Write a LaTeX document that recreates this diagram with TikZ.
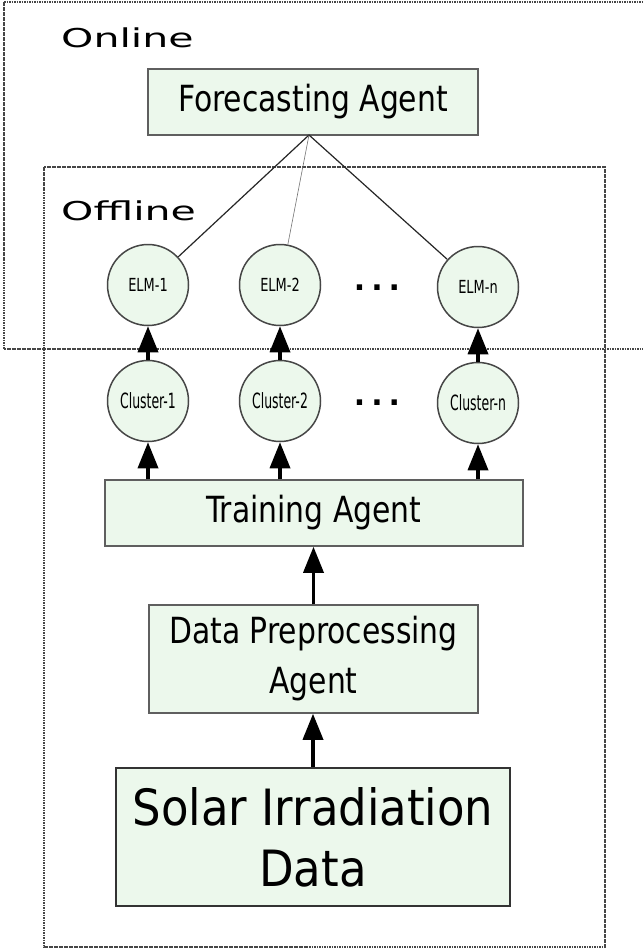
\documentclass[tikz,border=0pt]{standalone}
\usepackage{fontspec}
\setmainfont{DejaVu Sans Condensed}
\newfontfamily\labelfont[FakeStretch=1.58]{DejaVu Sans}
\newfontfamily\boxfont[FakeStretch=0.92]{DejaVu Sans Condensed}
\newfontfamily\elmfont[FakeStretch=0.8]{DejaVu Sans Condensed}
\newfontfamily\clusterfont[FakeStretch=0.66]{DejaVu Sans Condensed}
\newfontfamily\dotfont{DejaVu Sans}
\usetikzlibrary{arrows.meta}
\definecolor{boxfill}{RGB}{236,248,236}
\definecolor{boxline}{RGB}{95,95,95}
\definecolor{frameline}{RGB}{70,70,70}
\tikzset{
  agentbox/.style={draw=boxline, line width=1.5pt, fill=boxfill, inner sep=0pt, align=center},
  elmnode/.style={circle, draw=frameline, line width=1.5pt, fill=boxfill, minimum size=81pt, inner sep=0pt, font=\elmfont\fontsize{18}{18}\selectfont},
  clusternode/.style={elmnode, font=\clusterfont\fontsize{21}{21}\selectfont},
  frame/.style={draw=frameline, line width=1.1pt, dash pattern=on 1.6pt off 0.9pt},
  arr/.style={line width=3.5pt, -{Triangle[width=20pt,length=26pt]}},
  grouplabel/.style={anchor=west, inner sep=0pt, font=\labelfont\fontsize{26}{26}\selectfont},
  dots/.style={inner sep=0pt, font=\dotfont\bfseries\fontsize{30}{30}\selectfont}
}
\begin{document}
\begin{tikzpicture}[x=1pt,y=-1pt]
\useasboundingbox (0,0) rectangle (642,952);
\fill[white] (0,0) rectangle (642,952);
% frames
\draw[frame] (4,2) -- (660,2) (4,2) -- (4,349) -- (660,349);
\draw[frame] (44,167) rectangle (605,947);
\node[grouplabel] (online) at (61,38) {Online};
\node[grouplabel] (offline) at (61,211) {Offline};
% boxes
\node[agentbox, minimum width=330pt, minimum height=66pt, font=\boxfont\fontsize{36}{36}\selectfont] (fa) at (313,102) {Forecasting Agent};
\node[agentbox, minimum width=418pt, minimum height=66pt, font=\boxfont\fontsize{36}{36}\selectfont] (ta) at (314,513) {Training Agent};
\node[agentbox, minimum width=329pt, minimum height=108pt, font=\boxfont\fontsize{36}{50}\selectfont] (pp) at (313.5,659) {Data Preprocessing\\Agent};
\node[agentbox, draw=black!80, line width=2.5pt, minimum width=394pt, minimum height=138pt, font=\fontsize{50}{61}\selectfont] (sd) at (313,837) {Solar Irradiation\\Data};
% circles
\node[elmnode] (e1) at (148,285) {ELM-1};
\node[elmnode] (e2) at (280,285) {ELM-2};
\node[elmnode] (en) at (478,287) {ELM-n};
\node[clusternode] (c1) at (148,401) {Cluster-1};
\node[clusternode] (c2) at (280,401) {Cluster-2};
\node[clusternode] (cn) at (478,403) {Cluster-n};
\node[dots] (d1) at (377,288) {.\kern6pt.\kern6pt.};
\node[dots] (d2) at (377,403) {.\kern6pt.\kern6pt.};
% forecasting links
\coordinate (apex) at (309,135);
\draw[line width=1.2pt, draw=black!85] (apex) -- (e1);
\draw[line width=0.6pt, draw=black!55] (apex) -- (e2);
\draw[line width=1.2pt, draw=black!85] (apex) -- (en);
% arrows
\draw[arr] (c1) -- (e1);
\draw[arr] (c2) -- (e2);
\draw[arr] (cn) -- (en);
\draw[arr] (c1 |- ta.north) -- (c1);
\draw[arr] (c2 |- ta.north) -- (c2);
\draw[arr] (cn |- ta.north) -- (cn);
\draw[arr] (pp.north) -- (pp.north |- ta.south);
\draw[arr] (sd.north) -- (sd.north |- pp.south);
\end{tikzpicture}
\end{document}
